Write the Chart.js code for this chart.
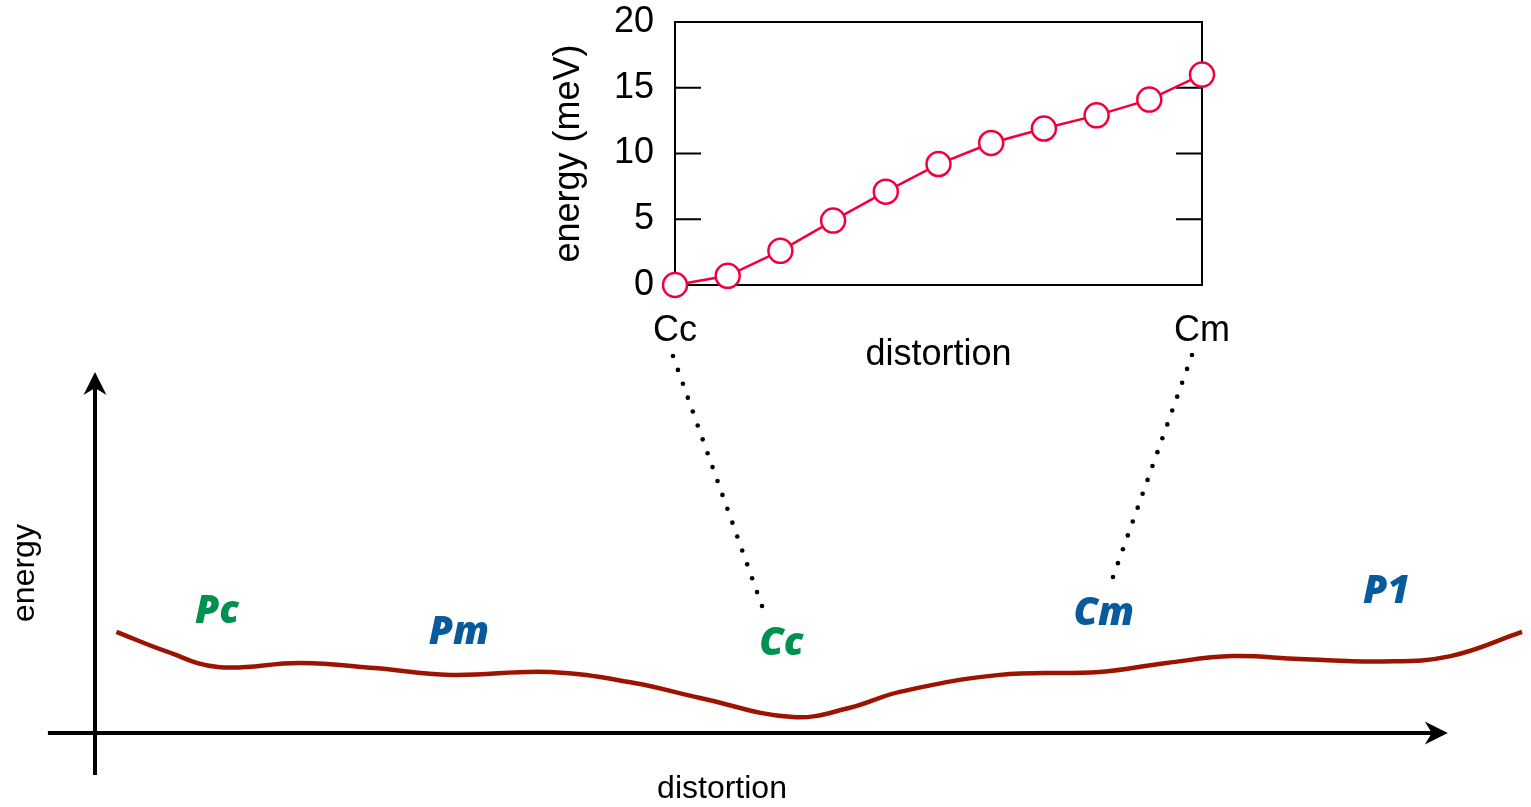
<!DOCTYPE html>
<html>
<head>
<meta charset="utf-8">
<script src="https://cdn.jsdelivr.net/npm/chart.js@4.4.0/dist/chart.umd.min.js"></script>
<style>
  body { margin: 0; background: #fff; }
  #wrap { position: relative; width: 1531px; height: 807px; }
  #landscape { position: absolute; left: 0; top: 0; }
  #inset { position: absolute; left: 540px; top: 0; }
</style>
</head>
<body>
<div id="wrap">
  <canvas id="landscape" width="1531" height="807"></canvas>
  <canvas id="inset" width="720" height="380"></canvas>
</div>
<script>
// inset: energy along the Cc -> Cm distortion path (meV)
var insetSteps = ['Cc', '', '', '', '', '', '', '', '', '', 'Cm'];
var insetEnergy = [0, 0.7, 2.6, 4.9, 7.1, 9.2, 10.8, 11.9, 12.9, 14.1, 16.0];
var insetTicks = [0, 5, 10, 15, 20];

// schematic energy landscape, arbitrary units
var pathX = [1.5, 5.0, 8.6, 14.4, 19.6, 24.9, 31.9, 37.7, 42.4, 48.9, 52.9, 56.4, 63.4, 70.4, 75.1, 79.7, 84.4, 90.3, 95.0, 100];
var pathE = [28.0, 22.6, 18.3, 19.4, 18.0, 16.1, 16.9, 13.9, 9.7, 4.4, 7.0, 11.4, 16.1, 16.9, 19.4, 21.3, 20.5, 19.8, 21.3, 28.0];
var phaseNames = ['Pc', 'Pm', 'Cc', 'Cm', 'P1'];

var textFont = '"Liberation Sans", Arial, sans-serif';
var green = '#009150';
var blue = '#075a9c';
var red = '#f2003c';

// where the phase names sit on the landscape (x, energy) and their colour
var phaseSpots = [
  { x: 8.55, y: 34.1, color: green },
  { x: 25.5, y: 28.3, color: blue },
  { x: 48.1, y: 25.2, color: green },
  { x: 70.7, y: 33.5, color: blue },
  { x: 90.5, y: 39.6, color: blue }
];

function arrow(ctx, x1, y1, x2, y2) {
  var len = Math.hypot(x2 - x1, y2 - y1);
  var ux = (x2 - x1) / len, uy = (y2 - y1) / len;
  var px = -uy, py = ux;
  ctx.beginPath();
  ctx.moveTo(x1, y1);
  ctx.lineTo(x2 - ux * 12, y2 - uy * 12);
  ctx.stroke();
  ctx.beginPath();
  ctx.moveTo(x2, y2);
  ctx.lineTo(x2 - ux * 23 + px * 11.5, y2 - uy * 23 + py * 11.5);
  ctx.lineTo(x2 - ux * 16, y2 - uy * 16);
  ctx.lineTo(x2 - ux * 23 - px * 11.5, y2 - uy * 23 - py * 11.5);
  ctx.closePath();
  ctx.fill();
}

function dots(ctx, x1, y1, x2, y2, n) {
  for (var i = 0; i < n; i++) {
    var t = i / (n - 1);
    ctx.beginPath();
    ctx.arc(x1 + (x2 - x1) * t, y1 + (y2 - y1) * t, 2.3, 0, Math.PI * 2);
    ctx.fill();
  }
}

var landscapeDecor = {
  id: 'landscapeDecor',
  beforeDatasetsDraw: function(chart) {
    var ctx = chart.ctx, xs = chart.scales.x, ys = chart.scales.y;
    var x0 = xs.getPixelForValue(0), y0 = ys.getPixelForValue(0);
    ctx.save();
    ctx.strokeStyle = '#000';
    ctx.fillStyle = '#000';
    ctx.lineWidth = 4;
    arrow(ctx, xs.getPixelForValue(-3.3), y0, xs.getPixelForValue(94.8), y0);
    arrow(ctx, x0, ys.getPixelForValue(-11.6), x0, ys.getPixelForValue(100));

    // dotted guides from the inset labels down to the two phases
    dots(ctx, 673, 356, 762, 606, 19);
    dots(ctx, 1192, 355, 1113, 577, 17);

    ctx.font = '32px ' + textFont;
    ctx.textAlign = 'center';
    ctx.textBaseline = 'middle';
    ctx.fillText('distortion', 722, 789);
    ctx.translate(25, 573);
    ctx.rotate(-Math.PI / 2);
    ctx.fillText('energy', 0, 0);
    ctx.restore();
  },
  afterDatasetsDraw: function(chart) {
    var ctx = chart.ctx, xs = chart.scales.x, ys = chart.scales.y;
    ctx.save();
    ctx.font = 'italic 800 39px "Open Sans", Lato, sans-serif';
    ctx.textAlign = 'center';
    ctx.textBaseline = 'alphabetic';
    phaseNames.forEach(function(name, i) {
      var s = phaseSpots[i];
      ctx.fillStyle = s.color;
      ctx.fillText(name, xs.getPixelForValue(s.x), ys.getPixelForValue(s.y) + 13);
    });
    ctx.restore();
  }
};

new Chart(document.getElementById('landscape'), {
  type: 'line',
  data: {
    datasets: [{
      data: pathX.map(function(x, i) { return { x: x, y: pathE[i] }; }),
      borderColor: '#9c1400',
      borderWidth: 4.5,
      pointRadius: 0,
      tension: 0.4,
      clip: false
    }]
  },
  options: {
    responsive: false,
    animation: false,
    devicePixelRatio: 1,
    events: [],
    layout: { padding: { left: 95, right: 9, top: 372, bottom: 74 } },
    plugins: { legend: { display: false }, tooltip: { enabled: false } },
    scales: {
      x: { type: 'linear', min: 0, max: 100, display: false },
      y: { type: 'linear', min: 0, max: 100, display: false }
    }
  },
  plugins: [landscapeDecor]
});

var insetFrame = {
  id: 'insetFrame',
  beforeDatasetsDraw: function(chart) {
    var a = chart.chartArea, ctx = chart.ctx, ys = chart.scales.y;
    ctx.save();
    ctx.strokeStyle = '#000';
    ctx.lineWidth = 2;
    ctx.strokeRect(a.left, a.top, a.right - a.left, a.bottom - a.top);
    ys.ticks.forEach(function(t) {
      var p = ys.getPixelForValue(t.value);
      ctx.beginPath();
      ctx.moveTo(a.left, p);
      ctx.lineTo(a.left + 26, p);
      ctx.moveTo(a.right - 26, p);
      ctx.lineTo(a.right, p);
      ctx.stroke();
    });
    ctx.restore();
  }
};

new Chart(document.getElementById('inset'), {
  type: 'line',
  data: {
    labels: insetSteps,
    datasets: [{
      data: insetEnergy,
      borderColor: red,
      borderWidth: 2.5,
      pointRadius: 12,
      pointBorderWidth: 2.5,
      pointBorderColor: red,
      pointBackgroundColor: '#fff',
      tension: 0,
      clip: false
    }]
  },
  options: {
    responsive: false,
    animation: false,
    devicePixelRatio: 1,
    events: [],
    layout: { padding: { top: 22, right: 58, left: 0, bottom: 0 } },
    plugins: { legend: { display: false }, tooltip: { enabled: false } },
    scales: {
      x: {
        grid: { display: false },
        border: { display: false },
        ticks: { autoSkip: false, maxRotation: 0, padding: 16, color: '#000', font: { family: textFont, size: 36 } },
        title: { display: true, text: 'distortion', color: '#000', font: { family: textFont, size: 36 }, padding: { top: 0, bottom: 3 } },
        afterFit: function(s) { s.height = 95; }
      },
      y: {
        min: 0,
        max: 20,
        afterBuildTicks: function(s) { s.ticks = insetTicks.map(function(v) { return { value: v }; }); },
        grid: { display: false },
        border: { display: false },
        ticks: { padding: 13, color: '#000', font: { family: textFont, size: 36 } },
        title: { display: true, text: 'energy (meV)', color: '#000', font: { family: textFont, size: 36 }, padding: { top: 7, bottom: 0 } },
        afterFit: function(s) { s.width = 135; s.paddingTop = 0; s.paddingBottom = 0; }
      }
    }
  },
  plugins: [insetFrame]
});
</script>
</body>
</html>
